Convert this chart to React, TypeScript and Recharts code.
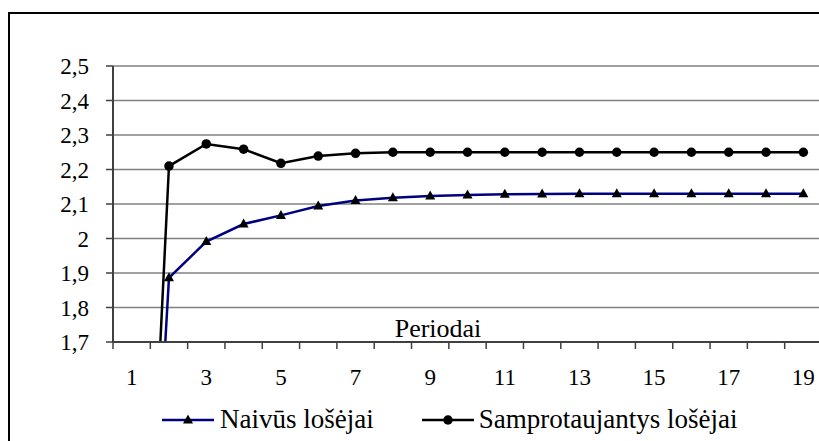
import { LineChart, Line, XAxis, YAxis, CartesianGrid, Legend } from "recharts"

// Periodai (x categories)
const periods = [1, 2, 3, 4, 5, 6, 7, 8, 9, 10, 11, 12, 13, 14, 15, 16, 17, 18, 19]

// Naivūs lošėjai
const naivus = [
  0, 1.886, 1.991, 2.042, 2.067, 2.094, 2.11, 2.118, 2.123, 2.126,
  2.128, 2.129, 2.13, 2.13, 2.13, 2.13, 2.13, 2.13, 2.13
]

// Samprotaujantys lošėjai
const samprotaujantys = [
  0, 2.21, 2.274, 2.259, 2.218, 2.239, 2.247, 2.25, 2.25, 2.25,
  2.25, 2.25, 2.25, 2.25, 2.25, 2.25, 2.25, 2.25, 2.25
]

const yTicks = [1.7, 1.8, 1.9, 2, 2.1, 2.2, 2.3, 2.4, 2.5]
// odd periods carry a label, the half steps carry the tick marks between categories
const xLabelTicks = [1, 3, 5, 7, 9, 11, 13, 15, 17, 19]
const xMarkTicks = [
  0.5, 1.5, 2.5, 3.5, 4.5, 5.5, 6.5, 7.5, 8.5, 9.5,
  10.5, 11.5, 12.5, 13.5, 14.5, 15.5, 16.5, 17.5, 18.5, 19.5
]
const xTicks = [...xMarkTicks, ...xLabelTicks].sort((a, b) => a - b)

const data = periods.map((p, i) => ({
  p,
  naivus: naivus[i],
  samprotaujantys: samprotaujantys[i]
}))

const FONT = '"Liberation Serif", serif'
const AXIS = "#404040"
const NAVY = "#000080"

const Triangle = (props: any) => {
  const { cx, cy, index } = props
  if (cx == null || cy == null) return <g key={index} />
  return (
    <polygon
      key={index}
      points={`${cx},${cy - 5.5} ${cx + 5},${cy + 3.5} ${cx - 5},${cy + 3.5}`}
      fill="#000"
    />
  )
}

const XTick = (props: any) => {
  const { x, y, payload } = props
  if (Number.isInteger(payload.value)) {
    return (
      <text x={x} y={y} dy={43} textAnchor="middle" fontSize={23} fontFamily={FONT} fill="#000">
        {payload.value}
      </text>
    )
  }
  return <line x1={x} x2={x} y1={y} y2={y + 7} stroke={AXIS} strokeWidth={1.5} />
}

const LegendIcon = ({ color, marker }: { color: string; marker: "triangle" | "circle" }) => (
  <svg width={52} height={20} style={{ display: "block" }}>
    <line x1={0} x2={52} y1={10} y2={10} stroke={color} strokeWidth={2.5} />
    {marker === "triangle" ? (
      <polygon points="26,4.5 31,13.5 21,13.5" fill="#000" />
    ) : (
      <circle cx={26} cy={10} r={4.75} fill="#000" />
    )}
  </svg>
)

const renderLegend = () => (
  <div style={{ display: "flex", alignItems: "center", fontFamily: FONT, fontSize: 27, color: "#000", whiteSpace: "nowrap" }}>
    <LegendIcon color={NAVY} marker="triangle" />
    <span style={{ marginLeft: 6 }}>Naivūs lošėjai</span>
    <div style={{ width: 48 }} />
    <LegendIcon color="#000" marker="circle" />
    <span style={{ marginLeft: 5 }}>Samprotaujantys lošėjai</span>
  </div>
)

export default function App() {
  return (
    <div style={{ position: "fixed", left: 0, top: 0, width: 819, height: 441, overflow: "hidden", background: "#fff" }}>
      <div
        style={{
          position: "absolute",
          left: 8,
          top: 12,
          width: 860,
          height: 480,
          border: "2px solid #000",
          boxSizing: "border-box"
        }}
      />
      <div style={{ position: "absolute", left: 0, top: 0 }}>
        <LineChart
          width={830}
          height={441}
          data={data}
          margin={{ top: 66, right: 8, bottom: 50, left: 0 }}
          style={{ fontFamily: FONT }}
        >
          <CartesianGrid vertical={false} stroke="#808080" strokeWidth={1.5} />
          <XAxis
            type="number"
            dataKey="p"
            domain={[0.5, 19.5]}
            ticks={xTicks}
            interval={0}
            tick={<XTick />}
            tickLine={false}
            tickSize={0}
            tickMargin={0}
            height={49}
            axisLine={{ stroke: AXIS, strokeWidth: 2 }}
            label={{
              content: (props: any) => {
                const vb = props.viewBox || { x: 113, y: 342 }
                return (
                  <text x={vb.x + 325} y={vb.y - 5} textAnchor="middle" fontSize={26} fontFamily={FONT} fill="#000">
                    Periodai
                  </text>
                )
              }
            }}
          />
          <YAxis
            type="number"
            domain={[1.7, 2.5]}
            ticks={yTicks}
            allowDataOverflow
            width={113}
            tickSize={7}
            tickMargin={17}
            axisLine={{ stroke: AXIS, strokeWidth: 2 }}
            tickLine={{ stroke: AXIS, strokeWidth: 1.5 }}
            tick={{ fontSize: 23, fontFamily: FONT, fill: "#000" }}
            tickFormatter={(v: number) => String(v).replace(".", ",")}
          />
          <Legend
            layout="horizontal"
            verticalAlign="middle"
            align="center"
            content={renderLegend}
            wrapperStyle={{ top: 404, left: 162, width: "auto" }}
          />
          <Line
            dataKey="naivus"
            name="Naivūs lošėjai"
            type="linear"
            stroke={NAVY}
            strokeWidth={2.5}
            dot={<Triangle />}
            activeDot={false}
            isAnimationActive={false}
          />
          <Line
            dataKey="samprotaujantys"
            name="Samprotaujantys lošėjai"
            type="linear"
            stroke="#000"
            strokeWidth={2.5}
            dot={{ r: 4.75, fill: "#000", stroke: "#000", strokeWidth: 0 }}
            activeDot={false}
            isAnimationActive={false}
          />
        </LineChart>
      </div>
    </div>
  )
}
